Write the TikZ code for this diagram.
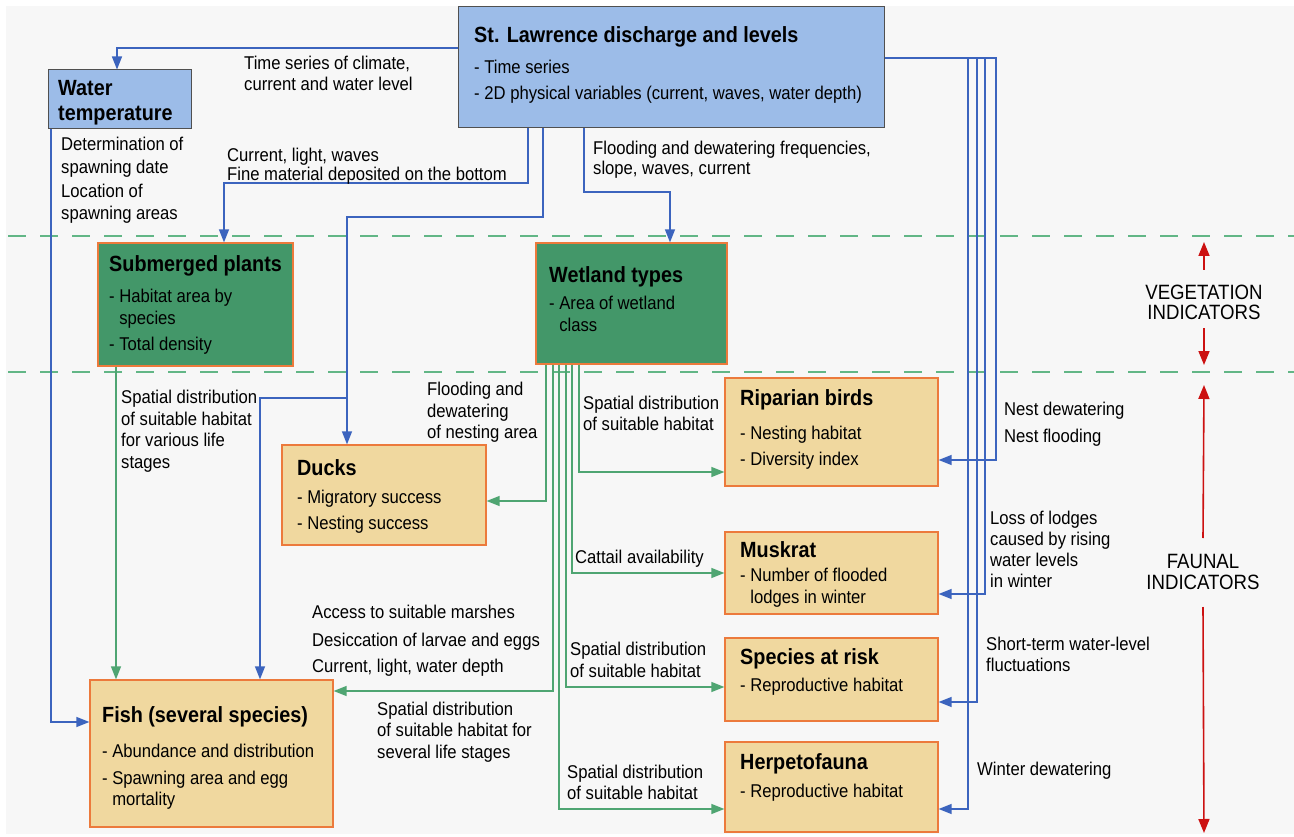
\documentclass[tikz,border=0pt]{standalone}
\usepackage{fontspec}
\setmainfont{Liberation Sans}[FakeStretch=0.9]
\usetikzlibrary{arrows.meta,fit}
\definecolor{bgc}{HTML}{F7F7F7}
\definecolor{bluefill}{HTML}{9CBCE8}
\definecolor{blueedge}{HTML}{505050}
\definecolor{greenfill}{HTML}{439769}
\definecolor{tanfill}{HTML}{F0D89F}
\definecolor{orangeedge}{HTML}{EC7A3C}
\definecolor{bline}{HTML}{3C64BE}
\definecolor{gline}{HTML}{4FA572}
\definecolor{dashc}{HTML}{62B686}
\definecolor{redc}{HTML}{CC1111}
\newcommand\bodyfont{\fontsize{18.5}{21}\selectfont}
\newcommand\titlefont{\fontsize{22}{25}\selectfont\bfseries}
\newcommand\sidefont{\fontsize{20.7}{24}\selectfont}
\newcommand\lab[4]{\node[lab] (#1) at (#2,#3) {#4};}
\newcommand\ttl[4]{\node[ttlstyle] (#1) at (#2,#3) {#4};}
\newcommand\ind{\hphantom{- }}
\begin{document}
\begin{tikzpicture}[x=1pt,y=-1pt,
  lab/.style={anchor=mid west, inner sep=0pt, yshift=-4.5pt, font=\bodyfont},
  ttlstyle/.style={anchor=mid west, inner sep=0pt, yshift=-5pt, font=\titlefont},
  side/.style={anchor=center, inner sep=0pt, font=\sidefont},
  bluebox/.style={draw=blueedge, line width=1pt, fill=bluefill, inner sep=0pt},
  greenbox/.style={draw=orangeedge, line width=1.3pt, fill=greenfill, inner sep=0pt},
  tanbox/.style={draw=orangeedge, line width=1.3pt, fill=tanfill, inner sep=0pt},
  bl/.style={draw=bline, line width=1.4pt, -{Triangle[length=13pt,width=10pt]}},
  gl/.style={draw=gline, line width=1.4pt, -{Triangle[length=13pt,width=10pt]}},
  rl/.style={draw=redc, line width=1.6pt, -{Triangle[length=14pt,width=11pt]}},
  dashline/.style={draw=dashc, line width=1.3pt, dash pattern=on 18pt off 14pt}]
\useasboundingbox (0,0) rectangle (1294,837);
\fill[bgc] (6,6) rectangle (1294,834);
% dashed separators
\draw[dashline] (8,236) -- (1294,236);
\draw[dashline] (8,372) -- (1294,372);
% boxes
\node[bluebox, fit={(458,7)(884,128)}] (stl) {};
\node[bluebox, fit={(48,70)(191,129)}] (wt) {};
\node[greenbox, fit={(98,243)(293,366)}] (sub) {};
\node[greenbox, fit={(536,243)(727,364)}] (wet) {};
\node[tanbox, fit={(725,378)(938,486)}] (rip) {};
\node[tanbox, fit={(282,445)(486,545)}] (ducks) {};
\node[tanbox, fit={(725,532)(938,614)}] (musk) {};
\node[tanbox, fit={(725,638)(938,721)}] (sar) {};
\node[tanbox, fit={(90,680)(333,827)}] (fish) {};
\node[tanbox, fit={(725,742)(938,832)}] (herp) {};
% blue connectors
\draw[bl] (stl.west |- 0,48) -| (wt.north -| 117,0);
\draw[bl] (wt.south -| 51,0) |- (fish.west |- 0,722);
\draw[bl] (stl.south -| 528,0) -- (528,183) -| (sub.north -| 224,0);
\draw[bl] (stl.south -| 543,0) -- (543,217) -| (ducks.north -| 347,0);
\coordinate (br) at (347,398);
\draw[bl] (br) -| (fish.north -| 260,0);
\draw[bl] (stl.south -| 584,0) -- (584,192) -| (wet.north -| 670,0);
\draw[bl] (stl.east |- 0,58) -| (996,460) -- (rip.east |- 0,460);
\draw[bl] (stl.east |- 0,58) -| (985,594) -- (musk.east |- 0,594);
\draw[bl] (stl.east |- 0,58) -| (977,702) -- (sar.east |- 0,702);
\draw[bl] (stl.east |- 0,58) -| (968,809) -- (herp.east |- 0,809);
% green connectors
\draw[gl] (sub.south -| 116,0) -- (fish.north -| 116,0);
\draw[gl] (wet.south -| 546,0) |- (ducks.east |- 0,501);
\draw[gl] (wet.south -| 553,0) |- (fish.east |- 0,691);
\draw[gl] (wet.south -| 559,0) |- (herp.west |- 0,809);
\draw[gl] (wet.south -| 566,0) |- (sar.west |- 0,687);
\draw[gl] (wet.south -| 572,0) |- (musk.west |- 0,573);
\draw[gl] (wet.south -| 579,0) |- (rip.west |- 0,472);
% box texts
\ttl{stlT}{474}{35}{St. Lawrence discharge and levels}
\lab{stl1}{474}{66}{- Time series}
\lab{stl2}{474}{92}{- 2D physical variables (current, waves, water depth)}
\ttl{wtT1}{58}{88}{Water}
\ttl{wtT2}{58}{113}{temperature}
\ttl{subT}{109}{264}{Submerged plants}
\lab{sub1}{109}{295}{- Habitat area by}
\lab{sub2}{109}{317}{\ind species}
\lab{sub3}{109}{343}{- Total density}
\ttl{wetT}{549}{275}{Wetland types}
\lab{wet1}{549}{302}{- Area of wetland}
\lab{wet2}{549}{324}{\ind class}
\ttl{ripT}{740}{398}{Riparian birds}
\lab{rip1}{740}{432}{- Nesting habitat}
\lab{rip2}{740}{458}{- Diversity index}
\ttl{duckT}{297}{468}{Ducks}
\lab{duck1}{297}{496}{- Migratory success}
\lab{duck2}{297}{522}{- Nesting success}
\ttl{muskT}{740}{550}{Muskrat}
\lab{musk1}{740}{574}{- Number of flooded}
\lab{musk2}{740}{596}{\ind lodges in winter}
\ttl{sarT}{740}{657}{Species at risk}
\lab{sar1}{740}{684}{- Reproductive habitat}
\ttl{fishT}{102}{715}{Fish (several species)}
\lab{fish1}{102}{750}{- Abundance and distribution}
\lab{fish2}{102}{777}{- Spawning area and egg}
\lab{fish3}{102}{798}{\ind mortality}
\ttl{herpT}{740}{762}{Herpetofauna}
\lab{herp1}{740}{790}{- Reproductive habitat}
% connector labels
\lab{c1a}{244}{62}{Time series of climate,}
\lab{c1b}{244}{83}{current and water level}
\lab{c2a}{61}{143}{Determination of}
\lab{c2b}{61}{166}{spawning date}
\lab{c2c}{61}{190}{Location of}
\lab{c2d}{61}{212}{spawning areas}
\lab{c3a}{227}{154}{Current, light, waves}
\lab{c3b}{227}{173}{Fine material deposited on the bottom}
\lab{c4a}{593}{147}{Flooding and dewatering frequencies,}
\lab{c4b}{593}{167}{slope, waves, current}
\lab{c5a}{121}{396}{Spatial distribution}
\lab{c5b}{121}{418}{of suitable habitat}
\lab{c5c}{121}{439}{for various life}
\lab{c5d}{121}{461}{stages}
\lab{c6a}{427}{388}{Flooding and}
\lab{c6b}{427}{410}{dewatering}
\lab{c6c}{427}{431}{of nesting area}
\lab{c7a}{583}{402}{Spatial distribution}
\lab{c7b}{583}{423}{of suitable habitat}
\lab{c8a}{1004}{408}{Nest dewatering}
\lab{c8b}{1004}{435}{Nest flooding}
\lab{c9a}{990}{517}{Loss of lodges}
\lab{c9b}{990}{538}{caused by rising}
\lab{c9c}{990}{559}{water levels}
\lab{c9d}{990}{580}{in winter}
\lab{c10}{575}{556}{Cattail availability}
\lab{c11a}{312}{611}{Access to suitable marshes}
\lab{c11b}{312}{639}{Desiccation of larvae and eggs}
\lab{c11c}{312}{665}{Current, light, water depth}
\lab{c12a}{570}{648}{Spatial distribution}
\lab{c12b}{570}{670}{of suitable habitat}
\lab{c13a}{986}{643}{Short-term water-level}
\lab{c13b}{986}{664}{fluctuations}
\lab{c14a}{377}{708}{Spatial distribution}
\lab{c14b}{377}{729}{of suitable habitat for}
\lab{c14c}{377}{751}{several life stages}
\lab{c15a}{567}{771}{Spatial distribution}
\lab{c15b}{567}{792}{of suitable habitat}
\lab{c16}{977}{768}{Winter dewatering}
% side indicators
\node[side] (veg1) at (1204,292) {VEGETATION};
\node[side] (veg2) at (1204,312) {INDICATORS};
\node[side] (fau1) at (1203,561) {FAUNAL};
\node[side] (fau2) at (1203,582) {INDICATORS};
\coordinate (vtop) at (1204,242);
\coordinate (vbot) at (1204,365);
\coordinate (ftop) at (1204,385);
\coordinate (fbot) at (1204,833);
\draw[rl] (veg1.north |- 0,270) -- (vtop);
\draw[rl] (veg2.south |- 0,328) -- (vbot);
\draw[rl] (fau1.north |- 0,538) -- (ftop);
\draw[rl] (fau2.south |- 0,607) -- (fbot);
\end{tikzpicture}
\end{document}
